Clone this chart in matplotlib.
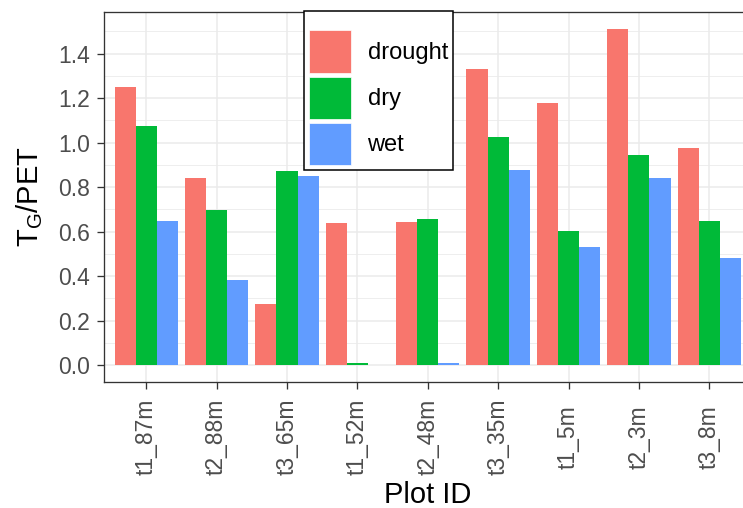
import numpy as np
import matplotlib as mpl
import matplotlib.pyplot as plt
from matplotlib.ticker import FixedLocator
from matplotlib.patches import Patch
mpl.rcParams['font.family'] = ['Liberation Sans', 'DejaVu Sans']
mpl.rcParams['mathtext.fontset'] = 'custom'
mpl.rcParams['mathtext.rm'] = 'Liberation Sans'


########################################################
plots = ['t1_87m', 't2_88m', 't3_65m', 't1_52m', 't2_48m',
         't3_35m', 't1_5m', 't2_3m', 't3_8m']
drought = [1.249, 0.843, 0.274, 0.639, 0.645, 1.330, 1.177, 1.512, 0.975]
dry = [1.075, 0.697, 0.875, 0.012, 0.657, 1.027, 0.604, 0.947, 0.648]
wet = [0.649, 0.383, 0.852, 0.0, 0.009, 0.878, 0.529, 0.842, 0.482]
groups = ['drought', 'dry', 'wet']
colors = ['#F8766D', '#00BA38', '#619CFF']
########################################################

W, H = 743, 508
fig = plt.figure(figsize=(W / 100, H / 100), dpi=100)
# panel in pixels: left 104, right ~751 (cropped), top 12, bottom 382
ax = fig.add_axes([104 / W, 1 - 382 / H, (751.5 - 104) / W, (382 - 12) / H])

x = np.arange(len(plots))
bw = 0.3
for k, (vals, c) in enumerate(zip([drought, dry, wet], colors)):
    ax.bar(x + (k - 1) * bw, vals, width=bw, color=c, linewidth=0)

ymax = max(max(drought), max(dry), max(wet))
ax.set_xlim(-0.6, len(plots) - 0.4)
ax.set_ylim(-0.05 * ymax, 1.05 * ymax)

ax.set_xticks(x)
ax.set_xticklabels(plots, rotation=90, va='center', ha='center')
ax.set_yticks(np.arange(0, 1.41, 0.2))
ax.set_yticklabels(['%.1f' % v for v in np.arange(0, 1.41, 0.2)])
ax.yaxis.set_minor_locator(FixedLocator(np.arange(0.1, 1.55, 0.2)))

ax.set_axisbelow(True)
ax.grid(True, which='major', color='#EBEBEB', linewidth=1.1)
ax.grid(True, which='minor', axis='y', color='#EBEBEB', linewidth=0.6)

for s in ax.spines.values():
    s.set_color('#333333')
    s.set_linewidth(0.95)

ax.tick_params(axis='both', which='major', colors='#333333', width=0.95,
               length=5, labelsize=16.5, labelcolor='#4D4D4D')
ax.tick_params(axis='y', which='major', pad=5.0)
ax.tick_params(axis='x', which='major', pad=34.5)
ax.tick_params(which='minor', length=0)

ax.set_xlabel('Plot ID', fontsize=21, va='baseline')
ax.xaxis.set_label_coords(0.5, (1 - 503 / H - (1 - 382 / H)) / ((382 - 12) / H))
ax.set_ylabel(r'$\mathregular{T_G/PET}$', fontsize=21)
ax.yaxis.set_label_coords(-0.091, 0.5)

# legend inside the panel, over the top border
handles = [Patch(facecolor=c, edgecolor='white', linewidth=0.5) for c in colors]
leg = ax.legend(handles, groups, loc='upper left',
                bbox_to_anchor=(304 / W, 1 - 11 / H),
                bbox_transform=fig.transFigure, borderaxespad=0,
                fontsize=17, title=' ', title_fontsize=8,
                handlelength=1.79, handleheight=2.38, labelspacing=0.17,
                handletextpad=0.68, borderpad=0.22, fancybox=False,
                framealpha=1, edgecolor='black')
leg.get_frame().set_linewidth(1.1)

fig.savefig('out.png', dpi=100)
